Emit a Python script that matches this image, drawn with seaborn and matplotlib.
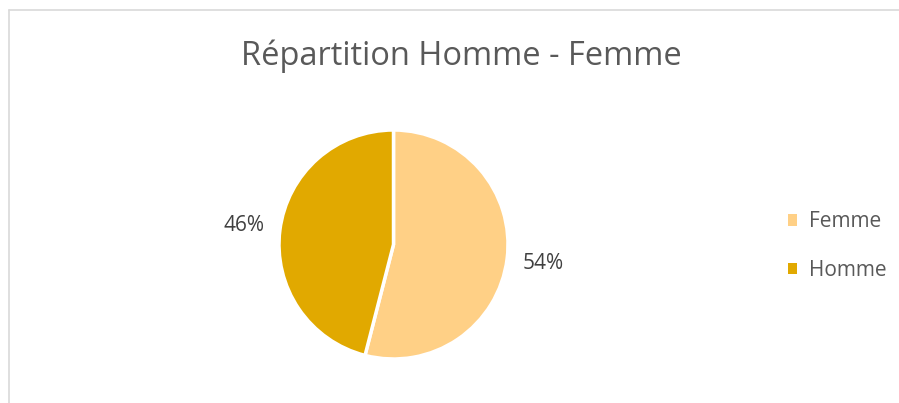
import matplotlib
matplotlib.use("Agg")
import matplotlib.pyplot as plt
import seaborn as sns
from matplotlib.lines import Line2D
from matplotlib.patches import Patch

categories = ["Femme", "Homme"]
shares = [54, 46]
colors = ["#FFD086", "#E1A900"]
title = "Répartition Homme - Femme"

sns.set_theme(style="white")
plt.rcParams['font.family'] = ['Open Sans', 'DejaVu Sans']

W, H = 899, 403
fig = plt.figure(figsize=(W / 100, H / 100), dpi=100)

# pie axes: centre ~ (393.5, 244.5) px, radius ~114.5 px
cx, cy, r = 393.5, 244.5, 114.5
ax = fig.add_axes([(cx - r) / W, 1 - (cy + r) / H, 2 * r / W, 2 * r / H])
wedges, _, autotexts = ax.pie(shares, colors=colors, startangle=90, counterclock=False,
                              autopct=lambda p: f"{p:.0f}%", pctdistance=1.32,
                              wedgeprops=dict(edgecolor="white", linewidth=2.5),
                              textprops=dict(color="#404040", fontsize=15))
ax.set_xlim(-1, 1)
ax.set_ylim(-1, 1)
ax.set_aspect("equal")
ax.axis("off")

fig.text(461 / W, 1 - 56 / H, title, ha="center", va="center", fontsize=23.5, color="#595959")

handles = [Patch(facecolor=c, edgecolor="none") for c in colors]
fig.legend(handles, categories, loc="center left", bbox_to_anchor=(769 / W, 1 - 246 / H),
           frameon=False, fontsize=15, labelcolor="#595959", handlelength=0.45, handleheight=0.45,
           handletextpad=0.55, labelspacing=1.3)

# chart border (only left and top visible in the crop)
fig.add_artist(Line2D([8.5 / W, 8.5 / W], [0, 1 - 9.5 / H], color="#d9d9d9", linewidth=1.2))
fig.add_artist(Line2D([8.5 / W, 1], [1 - 9.5 / H, 1 - 9.5 / H], color="#d9d9d9", linewidth=1.2))

fig.savefig("out.png", dpi=100, facecolor="white")
